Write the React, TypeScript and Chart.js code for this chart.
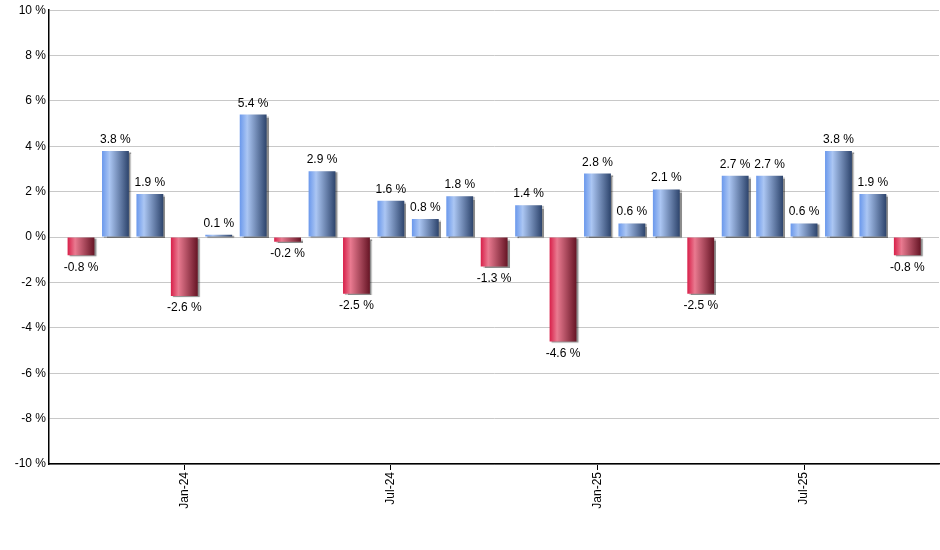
import React, { useEffect, useRef } from "react";
import { Chart, registerables } from "chart.js";

Chart.register(...registerables);

const months: string[] = [
  "Oct-23", "Nov-23", "Dec-23", "Jan-24", "Feb-24", "Mar-24", "Apr-24", "May-24", "Jun-24",
  "Jul-24", "Aug-24", "Sep-24", "Oct-24", "Nov-24", "Dec-24", "Jan-25", "Feb-25", "Mar-25",
  "Apr-25", "May-25", "Jun-25", "Jul-25", "Aug-25", "Sep-25", "Oct-25",
];
const returns: number[] = [
  -0.8, 3.8, 1.9, -2.6, 0.1, 5.4, -0.2, 2.9, -2.5, 1.6, 0.8, 1.8, -1.3, 1.4, -4.6, 2.8, 0.6,
  2.1, -2.5, 2.7, 2.7, 0.6, 3.8, 1.9, -0.8,
];
const tickMonths: string[] = ["Jan-24", "Jul-24", "Jan-25", "Jul-25"];
const yTicks: number[] = [-10, -8, -6, -4, -2, 0, 2, 4, 6, 8, 10];

const FONT = "'Liberation Sans', Arial, sans-serif";

function makeGradient(chart: any, idx: number, positive: boolean) {
  const xs = chart.scales?.x;
  const ctx = chart.ctx;
  if (!xs || !chart.chartArea) return positive ? "#6f9ae8" : "#d8284c";
  const cx = xs.getPixelForValue(idx);
  const unit = xs.getPixelForValue(1) - xs.getPixelForValue(0);
  const w = unit * 0.78;
  const g = ctx.createLinearGradient(cx - w / 2, 0, cx + w / 2, 0);
  if (positive) {
    g.addColorStop(0, "#6a98ec");
    g.addColorStop(0.28, "#abc6f3");
    g.addColorStop(1, "#2d446c");
  } else {
    g.addColorStop(0, "#d81f49");
    g.addColorStop(0.28, "#e97a90");
    g.addColorStop(1, "#661525");
  }
  return g;
}

const shadowPlugin = {
  id: "barShadow",
  beforeDatasetsDraw(chart: any) {
    const ctx = chart.ctx;
    ctx.save();
    ctx.shadowColor = "rgba(0,0,0,0.45)";
    ctx.shadowOffsetX = 2;
    ctx.shadowOffsetY = 1;
    ctx.shadowBlur = 1;
  },
  afterDatasetsDraw(chart: any) {
    chart.ctx.restore();
  },
};

const labelPlugin = {
  id: "valueLabels",
  afterDatasetsDraw(chart: any) {
    const ctx = chart.ctx;
    const meta = chart.getDatasetMeta(0);
    ctx.save();
    ctx.font = `12px ${FONT}`;
    ctx.fillStyle = "#000";
    ctx.textAlign = "center";
    meta.data.forEach((el: any, i: number) => {
      const v = returns[i];
      const text = `${v.toFixed(1)} %`;
      if (v >= 0) {
        ctx.textBaseline = "alphabetic";
        ctx.fillText(text, el.x, el.y - 8);
      } else {
        ctx.textBaseline = "top";
        ctx.fillText(text, el.x, el.y + 6);
      }
    });
    ctx.restore();
  },
};

export default function App() {
  const ref = useRef<HTMLCanvasElement | null>(null);

  useEffect(() => {
    if (!ref.current) return;
    const chart = new Chart(ref.current, {
      type: "bar",
      data: {
        datasets: [
          {
            data: returns.map((v, i) => ({ x: i, y: v })),
            backgroundColor: (c: any) => makeGradient(c.chart, c.dataIndex, returns[c.dataIndex] >= 0),
            borderWidth: 0,
            barPercentage: 0.78,
            categoryPercentage: 1,
          },
        ],
      },
      options: {
        animation: false,
        responsive: false,
        maintainAspectRatio: false,
        layout: { padding: { top: 10, right: 1, left: 0, bottom: 0 } },
        plugins: { legend: { display: false }, tooltip: { enabled: false } },
        scales: {
          x: {
            type: "linear",
            offset: false,
            min: -0.93,
            max: 24.92,
            afterBuildTicks: (scale: any) => {
              scale.ticks = tickMonths.map((m) => ({ value: months.indexOf(m) }));
            },
            afterFit: (scale: any) => {
              scale.height = 86;
            },
            ticks: {
              autoSkip: false,
              minRotation: 90,
              maxRotation: 90,
              padding: 2,
              color: "#000",
              font: { family: FONT, size: 12 },
              callback: (v: any) => months[Math.round(Number(v))] ?? "",
            },
            grid: {
              offset: false,
              drawOnChartArea: false,
              drawTicks: true,
              tickLength: 6,
              color: "#000",
              lineWidth: 1,
            },
            border: { color: "#000", width: 1.5 },
          },
          y: {
            min: -10,
            max: 10,
            afterBuildTicks: (scale: any) => {
              scale.ticks = yTicks.map((v) => ({ value: v }));
            },
            afterFit: (scale: any) => {
              scale.width = 49;
            },
            ticks: {
              padding: 3,
              color: "#000",
              font: { family: FONT, size: 12 },
              callback: (v: any) => `${v} %`,
            },
            grid: { color: "#c8c8c8", lineWidth: 1, drawTicks: false },
            border: { color: "#000", width: 1.5 },
          },
        },
      },
      plugins: [shadowPlugin, labelPlugin],
    } as any);
    return () => chart.destroy();
  }, []);

  return (
    <div style={{ position: "absolute", left: 0, top: 0, width: 940, height: 550, background: "#fff" }}>
      <canvas ref={ref} width={940} height={550} style={{ width: 940, height: 550 }} />
    </div>
  );
}
